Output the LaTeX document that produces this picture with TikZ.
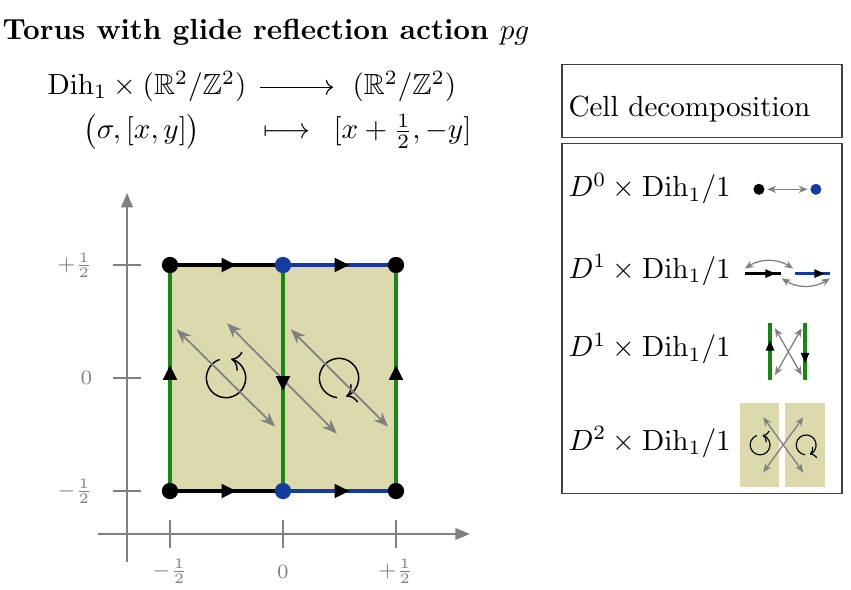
\documentclass[tikz,border=0pt]{standalone}
\usepackage{amsmath}
\usepackage{amssymb}
\usepackage{tikz}
\usetikzlibrary{arrows.meta}
\usetikzlibrary{decorations.markings}
\definecolor{cellfill}{RGB}{220,217,172}
\definecolor{edgegreen}{RGB}{25,135,20}
\definecolor{edgeblue}{RGB}{20,60,160}
\tikzset{
  vtx/.style={circle, fill, inner sep=0pt, outer sep=0pt, minimum size=5.6pt},
  smallvtx/.style={circle, fill, inner sep=0pt, outer sep=0pt, minimum size=3.8pt},
  edge/.style={line width=1.4pt},
  smalledge/.style={line width=1.1pt},
  midarrow/.style={postaction={decorate}, decoration={markings, mark=at position #1 with {\arrow{Triangle[length=5pt,width=5pt,line width=0pt,color=black]}}}},
  smallmidarrow/.style={postaction={decorate}, decoration={markings, mark=at position #1 with {\arrow{Triangle[length=3.5pt,width=3pt,line width=0pt,color=black]}}}},
  action/.style={gray, line width=0.6pt, {Stealth[length=5pt,width=4pt]}-{Stealth[length=5pt,width=4pt]}},
  smallaction/.style={gray, line width=0.45pt, {Stealth[length=3pt,width=2.5pt]}-{Stealth[length=3pt,width=2.5pt]}},
  axis/.style={gray, line width=0.7pt},
  ticklabel/.style={gray, inner sep=0pt, font=\scriptsize},
  rot/.style={line width=0.5pt, -{To[scale=1.2]}},
  smallrot/.style={line width=0.4pt, -{To[scale=0.8]}},
  legendbox/.style={draw=black!75, line width=0.4pt},
  txt/.style={anchor=base west, inner sep=0pt},
}
\begin{document}
\begin{tikzpicture}[x=77.65pt, y=77.65pt]
\useasboundingbox (-1.2522,-0.9336) rectangle (2.5133,1.6726);
%
\node[txt] (title) at (-1.2434,1.500) {\bfseries Torus with glide reflection action $pg$};
\node[txt] (dom) at (-1.044,1.254) {$\mathrm{Dih}_1\times(\mathbb{R}^2/\mathbb{Z}^2)$};
\node[txt] (cod) at (0.305,1.254) {$(\mathbb{R}^2/\mathbb{Z}^2)$};
\draw[line width=0.4pt, -{Computer Modern Rightarrow}] ([xshift=4.5pt,yshift=2.5pt]dom.base east) -- ([xshift=-6.5pt,yshift=2.5pt]cod.base west);
\node[txt] (src) at (-0.885,1.058) {$\bigl(\sigma,[x,y]\bigr)$};
\node[txt] (mapsto) at (-0.088,1.058) {$\longmapsto$};
\node[txt] (img) at (0.221,1.058) {$[x+\tfrac{1}{2},-y]$};
%
\draw[axis, -{Triangle[length=5pt,width=4pt]}] (-0.819,-0.69) -- (0.827,-0.69);
\draw[axis, -{Triangle[length=5pt,width=4pt]}] (-0.69,-0.814) -- (-0.69,0.819);
\foreach \t/\lab/\n in {-0.5/-\frac{1}{2}/a, 0/0/b, 0.5/+\frac{1}{2}/c} {
  \draw[axis] (\t,-0.63) -- (\t,-0.75);
  \draw[axis] (-0.63,\t) -- (-0.75,\t);
  \node[ticklabel] (xlab\n) at (\t,-0.856) {$\lab$};
  \node[ticklabel, anchor=east] (ylab\n) at (-0.841,\t) {$\lab$};
}
%
\fill[cellfill] (-0.5,-0.5) rectangle (0.5,0.5);
\draw[rot] (-0.252,0) ++(109:0.087) arc[start angle=109, end angle=435, radius=0.087];
\draw[rot] (0.248,0) ++(264:0.087) arc[start angle=264, end angle=-69, radius=0.087];
\draw[action] (-0.470,0.215) -- (-0.035,-0.215);
\draw[action] (-0.247,0.242) -- (0.238,-0.246);
\draw[action] (0.035,0.215) -- (0.465,-0.215);
%
\node[vtx] (bl) at (-0.5,-0.5) {};
\node[vtx, edgeblue] (bm) at (0,-0.5) {};
\node[vtx] (br) at (0.5,-0.5) {};
\node[vtx] (tl) at (-0.5,0.5) {};
\node[vtx, edgeblue] (tm) at (0,0.5) {};
\node[vtx] (tr) at (0.5,0.5) {};
\draw[edge, midarrow=0.6] (bl) -- (bm);
\draw[edge, midarrow=0.6] (tl) -- (tm);
\draw[edge, edgeblue, midarrow=0.6] (bm) -- (br);
\draw[edge, edgeblue, midarrow=0.6] (tm) -- (tr);
\draw[edge, edgegreen, midarrow=0.56] (bl) -- (tl);
\draw[edge, edgegreen, midarrow=0.56] (tm) -- (bm);
\draw[edge, edgegreen, midarrow=0.56] (br) -- (tr);
%
\draw[legendbox] (1.2345,1.0633) rectangle (2.4735,1.387);
\draw[legendbox] (1.2345,-0.511) rectangle (2.4735,1.0385);
\node[txt] (cellhead) at (1.261,1.156) {Cell decomposition};
\node[txt] (dzero) at (1.261,0.802) {$D^0\times\mathrm{Dih}_1/1$};
\node[txt] (dhor) at (1.261,0.442) {$D^1\times\mathrm{Dih}_1/1$};
\node[txt] (dver) at (1.261,0.094) {$D^1\times\mathrm{Dih}_1/1$};
\node[txt] (dtwo) at (1.261,-0.319) {$D^2\times\mathrm{Dih}_1/1$};
%
\node[smallvtx] (lv0) at (2.106,0.835) {};
\node[smallvtx, edgeblue] (lv1) at (2.358,0.835) {};
\draw[smallaction, shorten <=1pt, shorten >=1pt] (lv0) -- (lv1);
%
\draw[smalledge, smallmidarrow=0.85] (2.044,0.462) -- (2.204,0.462);
\draw[smalledge, edgeblue, smallmidarrow=0.85] (2.265,0.462) -- (2.420,0.462);
\draw[smallaction] (2.044,0.485) to[bend left=32] (2.257,0.485);
\draw[smallaction] (2.207,0.441) to[bend right=32] (2.420,0.441);
%
\draw[smalledge, edgegreen, smallmidarrow=0.7] (2.155,-0.009) -- (2.155,0.242);
\draw[smalledge, edgegreen, smallmidarrow=0.7] (2.310,0.242) -- (2.310,-0.009);
\draw[smallaction] (2.177,0.220) -- (2.295,0.013);
\draw[smallaction] (2.295,0.220) -- (2.177,0.013);
%
\fill[cellfill] (2.022,-0.481) rectangle (2.196,-0.109);
\fill[cellfill] (2.221,-0.481) rectangle (2.398,-0.109);
\draw[smallrot] (2.111,-0.296) ++(109:0.044) arc[start angle=109, end angle=435, radius=0.044];
\draw[smallrot] (2.315,-0.296) ++(264:0.044) arc[start angle=264, end angle=-69, radius=0.044];
\draw[smallaction] (2.125,-0.174) -- (2.302,-0.417);
\draw[smallaction] (2.302,-0.174) -- (2.125,-0.417);
\end{tikzpicture}
\end{document}
